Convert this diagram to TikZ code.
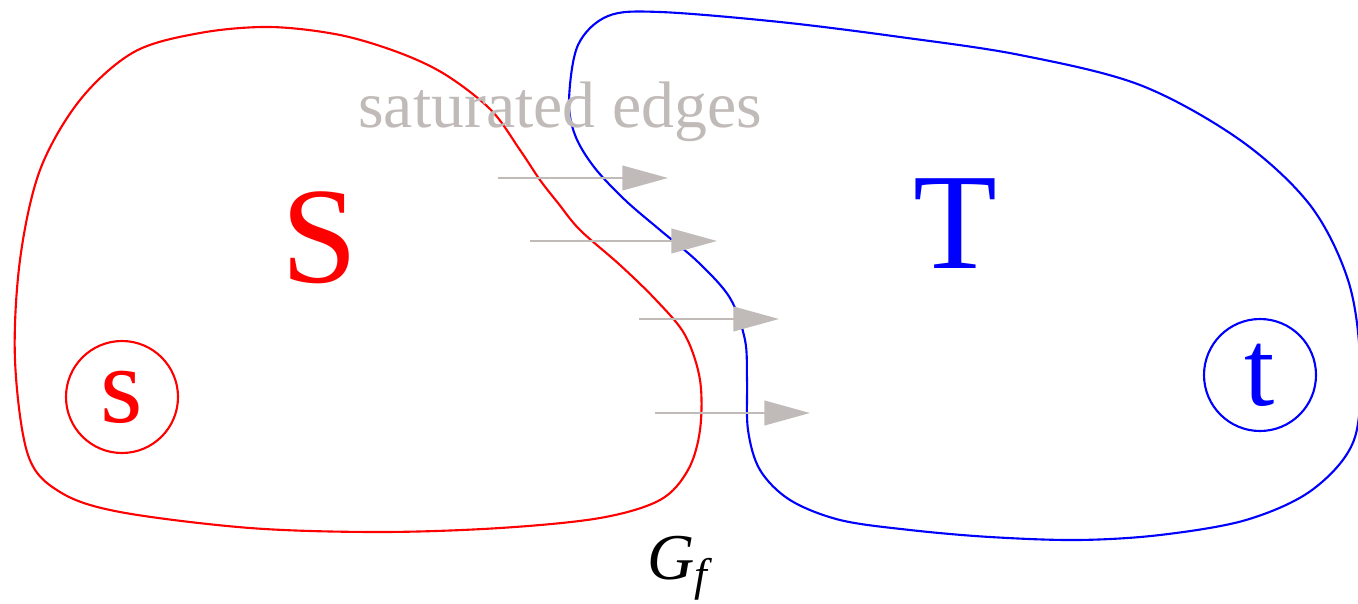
\documentclass[tikz,border=0pt]{standalone}
\usepackage{fontspec}
\setmainfont{Liberation Serif}
\usetikzlibrary{arrows.meta}
\definecolor{edgegray}{RGB}{192,186,184}

\begin{document}
\begin{tikzpicture}[x=0.01cm,y=-0.01cm,
  satedge/.style={edgegray,line width=0.6pt,-{Triangle[length=13pt,width=7pt]}},
  setline/.style={line width=0.6pt}]
\useasboundingbox (0,0) rectangle (1358,603);
% the set S
\draw[setline,red] plot[smooth cycle,tension=0.55] coordinates {(15,360) (20,260) (40,170) (80,100) (134,52) (200,33) (270,27) (340,35) (400,53) (446,75) (491,110) (520,150) (540,180) (558,203) (580,230) (620,265) (656,300) (685,335) (700,380) (700,430) (688,470) (660,500) (600,518) (500,528) (380,532) (250,528) (120,512) (60,492) (28,455)};
% the set T
\begin{scope}
\clip (0,0) rectangle (1358,603);
\draw[setline,blue] plot[smooth cycle,tension=0.55] coordinates {(569,100) (578,45) (608,16) (660,12) (780,22) (900,37) (1020,55) (1140,85) (1240,140) (1310,205) (1348,280) (1360,360) (1354,440) (1312,490) (1246,520) (1160,535) (1078,540) (990,537) (910,530) (840,520) (790,500) (760,470) (748,430) (747,380) (745,340) (730,298) (698,262) (660,230) (625,200) (594,167) (575,135)};
\end{scope}
\node[red,draw,circle,line width=0.6pt,minimum size=112*0.01cm,inner sep=0pt,font=\fontsize{31}{31}\selectfont] (s) at (122,397) {s};
\node[blue,draw,circle,line width=0.6pt,minimum size=112*0.01cm,inner sep=0pt,font=\fontsize{31}{31}\selectfont] (t) at (1260,375) {t};
\node[red,font=\fontsize{39}{39}\selectfont] (S) at (320,238) {S};
\node[blue,font=\fontsize{39}{39}\selectfont] (T) at (955,224) {T};
\node[edgegray,font=\fontsize{18.7}{20}\selectfont] (sat) at (560,112) {saturated edges};
\node[font=\fontsize{18.6}{20}\selectfont] (Gf) at (680,568) {\textit{G}\raisebox{-0.35ex}{\fontsize{13}{13}\selectfont\textit{f}}};
% saturated edges
\coordinate (a1) at (498,178); \coordinate (b1) at (668,178);
\coordinate (a2) at (530,241); \coordinate (b2) at (717,241);
\coordinate (a3) at (639,319); \coordinate (b3) at (779,319);
\coordinate (a4) at (655,413); \coordinate (b4) at (810,413);
\foreach \i in {1,...,4}
  \draw[satedge] (a\i) -- (b\i);
\end{tikzpicture}
\end{document}
